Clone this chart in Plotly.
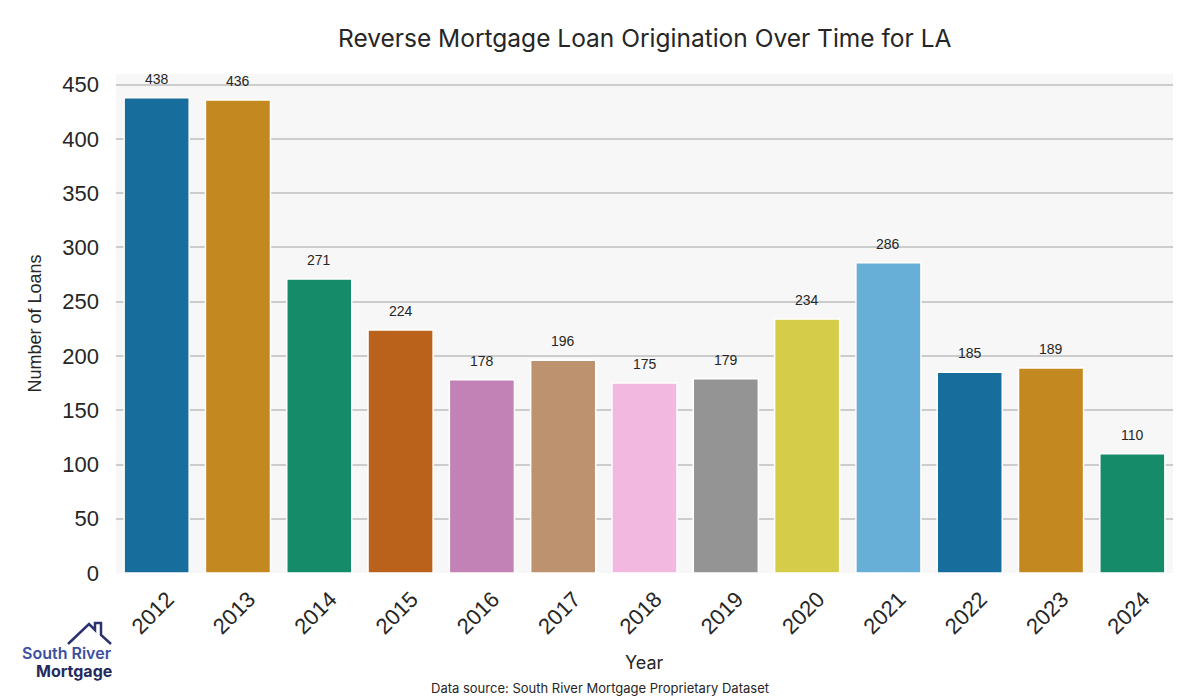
import colorsys
import plotly.graph_objects as go

# ---- data ----
years = ["2012", "2013", "2014", "2015", "2016", "2017", "2018",
         "2019", "2020", "2021", "2022", "2023", "2024"]
loans = [438, 436, 271, 224, 178, 196, 175, 179, 234, 286, 185, 189, 110]
y_ticks = [0, 50, 100, 150, 200, 250, 300, 350, 400, 450]

title_text = "Reverse Mortgage Loan Origination Over Time for LA"
x_title = "Year"
y_title = "Number of Loans"
source_text = "Data source: South River Mortgage Proprietary Dataset"

# seaborn "colorblind" palette, desaturated like seaborn barplot (0.75)
palette = ["#0173b2", "#de8f05", "#029e73", "#d55e00", "#cc78bc",
           "#ca9161", "#fbafe4", "#949494", "#ece133", "#56b4e9"]


def desat(hx, prop=0.75):
    r, g, b = (int(hx[i:i + 2], 16) / 255 for i in (1, 3, 5))
    h, l, s = colorsys.rgb_to_hls(r, g, b)
    r, g, b = colorsys.hls_to_rgb(h, l, s * prop)
    return "#%02x%02x%02x" % (round(r * 255), round(g * 255), round(b * 255))


colors = [desat(palette[i % len(palette)]) for i in range(len(years))]

# ---- layout geometry (pixels) ----
W, H = 1200, 700
L, R, T, B = 116, 27, 74, 127
PW, PH = W - L - R, H - T - B


def px(x):
    return (x - L) / PW


def py(y):
    return (H - B - y) / PH


fig = go.Figure()
fig.add_trace(go.Bar(
    x=list(range(len(years))), y=loans,
    marker=dict(color=colors, line=dict(color="white", width=1.5)),
    width=0.8,
    hovertext=years,
    showlegend=False,
))

# value labels above bars
for i, v in enumerate(loans):
    fig.add_annotation(x=i, y=v, xref="x", yref="y", text=str(v), showarrow=False,
                       yanchor="middle", yshift=19,
                       font=dict(family="Liberation Sans, Arial", size=14, color="#262626"))

font_main = "Inter, Lato, sans-serif"

annotations = [
    dict(text=title_text, x=0.5, y=py(38), xref="paper", yref="paper",
         showarrow=False, xanchor="center", yanchor="middle",
         font=dict(family=font_main, size=24.5, color="#262626")),
    dict(text=x_title, x=0.5, y=py(662), xref="paper", yref="paper",
         showarrow=False, xanchor="center", yanchor="middle",
         font=dict(family=font_main, size=18, color="#262626")),
    dict(text=y_title, x=px(34), y=0.5, xref="paper", yref="paper",
         showarrow=False, xanchor="center", yanchor="middle", textangle=-90,
         font=dict(family="Liberation Sans, Arial", size=18, color="#262626")),
    dict(text=source_text, x=px(600), y=py(688), xref="paper", yref="paper",
         showarrow=False, xanchor="center", yanchor="middle",
         font=dict(family=font_main, size=13, color="#262626")),
    # logo text
    dict(text="South River", x=px(67), y=py(653), xref="paper", yref="paper",
         showarrow=False, xanchor="center", yanchor="middle",
         font=dict(family=font_main, size=16, color="#3d4f9f", weight=600)),
    dict(text="Mortgage", x=px(74), y=py(671), xref="paper", yref="paper",
         showarrow=False, xanchor="center", yanchor="middle",
         font=dict(family=font_main, size=16, color="#232a5c", weight=700)),
]
for a in annotations:
    fig.add_annotation(**a)

# logo house outline
pts = [(68, 644), (89, 624), (95, 630), (95, 623), (101, 623), (101, 635), (111, 644)]
path = "M " + " L ".join(f"{px(x):.5f},{py(y):.5f}" for x, y in pts)
fig.add_shape(type="path", path=path, xref="paper", yref="paper",
              line=dict(color="#2a3370", width=2.5))

fig.update_layout(
    width=W, height=H,
    margin=dict(l=L, r=R, t=T, b=B),
    paper_bgcolor="white",
    plot_bgcolor="#f7f7f7",
    xaxis=dict(
        range=[-0.5, len(years) - 0.5],
        tickvals=list(range(len(years))), ticktext=years,
        tickangle=-45, ticklabelshift=11, ticklabelstandoff=8,
        tickfont=dict(family="Liberation Sans, Arial", size=22, color="#262626"),
        showgrid=False, showline=False, zeroline=False, ticks="",
    ),
    yaxis=dict(
        range=[0, 438 * 1.05], tickvals=y_ticks,
        tickfont=dict(family="Liberation Sans, Arial", size=22, color="#262626"),
        showgrid=True, gridcolor="#cccccc", gridwidth=1.5,
        zeroline=False, showline=False, ticks="", ticklabelstandoff=16,
    ),
)

fig.write_html("out.html", config={"displayModeBar": False},
               post_script="document.body.style.margin='0';")
